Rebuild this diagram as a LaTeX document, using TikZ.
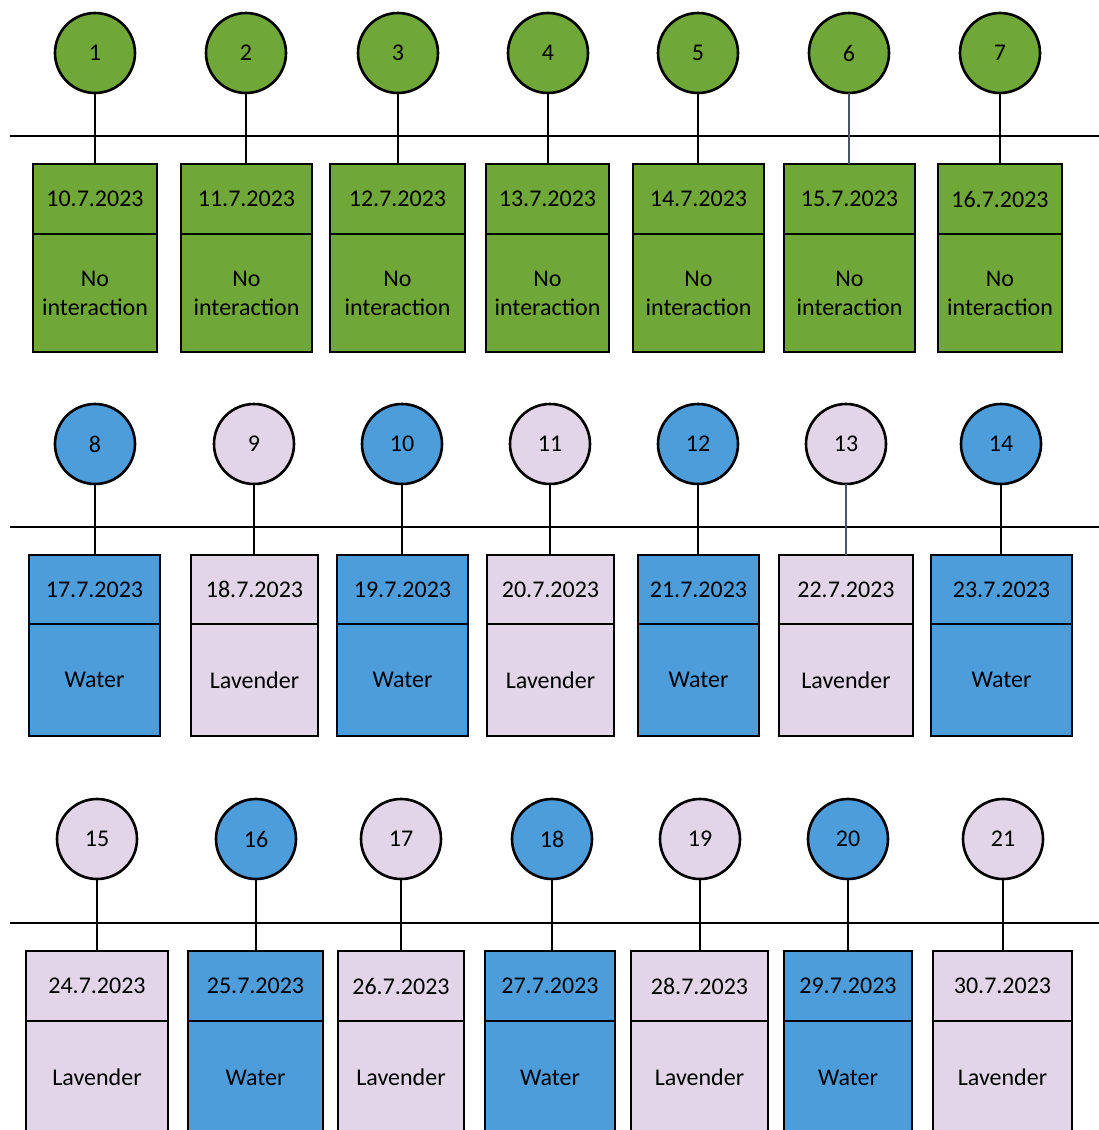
\documentclass[tikz,border=0pt]{standalone}
\usepackage{fontspec}
\setmainfont{Carlito}
\definecolor{gfill}{HTML}{6FA738}
\definecolor{bfill}{HTML}{4D9DDB}
\definecolor{lfill}{HTML}{E1D5E7}
\definecolor{slate}{HTML}{4A5568}
\begin{document}
\begin{tikzpicture}[x=1pt,y=-1pt,
  every node/.style={inner sep=0pt,outer sep=0pt,font=\fontsize{24}{29}\selectfont,text=black},
  dot/.style={circle,draw=black,line width=2.6pt,minimum size=80pt},
  cell/.style={rectangle,draw=black,line width=2.6pt,align=center},
  link/.style={line width=2.6pt,draw=black},
  rule/.style={line width=2.6pt,draw=black}]
\useasboundingbox (0,0) rectangle (1099,1130);
\clip (0,0) rectangle (1099,1130);
\fill[white] (0,0) rectangle (1099,1130);
% horizontal rules
\coordinate (r1a) at (10,136); \coordinate (r1b) at (1099,136);
\coordinate (r2a) at (10,527); \coordinate (r2b) at (1099,527);
\coordinate (r3a) at (10,923); \coordinate (r3b) at (1099,923);
\draw[rule] (r1a) -- (r1b);
\draw[rule] (r2a) -- (r2b);
\draw[rule] (r3a) -- (r3b);
% row 1
\def\cy{53}\def\top{164}\def\dv{234}\def\bt{352}
\foreach \n/\cx/\xl/\xr/\d/\lab/\col/\lc in {
  1/95/33/157/10.7.2023/{No\\interaction}/gfill/black,
  2/246/181/312/11.7.2023/{No\\interaction}/gfill/black,
  3/398/330/465/12.7.2023/{No\\interaction}/gfill/black,
  4/548/486/609/13.7.2023/{No\\interaction}/gfill/black,
  5/698/633/764/14.7.2023/{No\\interaction}/gfill/black,
  6/849/784/915/15.7.2023/{No\\interaction}/gfill/slate,
  7/1000/938/1062/16.7.2023/{No\\interaction}/gfill/black}{
  \node[dot,fill=\col] (c\n) at (\cx,\cy) {\n};
  \node[cell,fill=\col,minimum width=\xr-\xl,minimum height=\dv-\top] (d\n) at ({(\xl+\xr)/2},{(\top+\dv)/2}) {\d};
  \node[cell,fill=\col,minimum width=\xr-\xl,minimum height=\bt-\dv] (l\n) at ({(\xl+\xr)/2},{(\dv+\bt)/2}) {\lab};
  \draw[link,draw=\lc] (c\n.south) -- (c\n.south |- d\n.north);
}
% row 2
\def\cy{444}\def\top{555}\def\dv{624}\def\bt{736}
\foreach \n/\cx/\xl/\xr/\d/\lab/\col/\lc in {
  8/95/29/160/17.7.2023/Water/bfill/black,
  9/254/191/318/18.7.2023/Lavender/lfill/black,
  10/402/337/468/19.7.2023/Water/bfill/black,
  11/550/487/614/20.7.2023/Lavender/lfill/black,
  12/698/638/759/21.7.2023/Water/bfill/black,
  13/846/779/913/22.7.2023/Lavender/lfill/slate,
  14/1001/931/1072/23.7.2023/Water/bfill/black}{
  \node[dot,fill=\col] (c\n) at (\cx,\cy) {\n};
  \node[cell,fill=\col,minimum width=\xr-\xl,minimum height=\dv-\top] (d\n) at ({(\xl+\xr)/2},{(\top+\dv)/2}) {\d};
  \node[cell,fill=\col,minimum width=\xr-\xl,minimum height=\bt-\dv] (l\n) at ({(\xl+\xr)/2},{(\dv+\bt)/2}) {\lab};
  \draw[link,draw=\lc] (c\n.south) -- (c\n.south |- d\n.north);
}
% row 3
\def\cy{839}\def\top{951}\def\dv{1021}\def\bt{1134}
\foreach \n/\cx/\xl/\xr/\d/\lab/\col/\lc in {
  15/97/26/168/24.7.2023/Lavender/lfill/black,
  16/256/188/323/25.7.2023/Water/bfill/black,
  17/401/338/464/26.7.2023/Lavender/lfill/black,
  18/552/485/615/27.7.2023/Water/bfill/black,
  19/700/631/768/28.7.2023/Lavender/lfill/black,
  20/848/784/912/29.7.2023/Water/bfill/black,
  21/1003/933/1072/30.7.2023/Lavender/lfill/black}{
  \node[dot,fill=\col] (c\n) at (\cx,\cy) {\n};
  \node[cell,fill=\col,minimum width=\xr-\xl,minimum height=\dv-\top] (d\n) at ({(\xl+\xr)/2},{(\top+\dv)/2}) {\d};
  \node[cell,fill=\col,minimum width=\xr-\xl,minimum height=\bt-\dv] (l\n) at ({(\xl+\xr)/2},{(\dv+\bt)/2}) {\lab};
  \draw[link,draw=\lc] (c\n.south) -- (c\n.south |- d\n.north);
}
\end{tikzpicture}
\end{document}
